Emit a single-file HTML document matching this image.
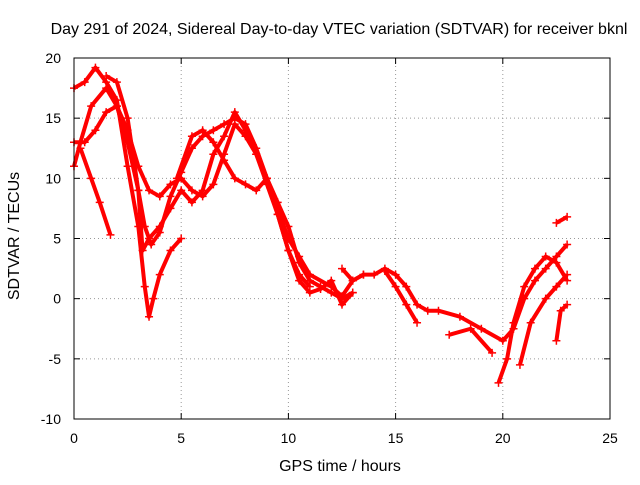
<!DOCTYPE html>
<html><head><meta charset="utf-8"><style>
body{margin:0;background:#fff}
svg{font-family:"Liberation Sans",sans-serif;font-size:14px}
</style></head><body>
<svg id="chart" width="640" height="480">
<text x="339" y="34" text-anchor="middle" font-size="16">Day 291 of 2024, Sidereal Day-to-day VTEC variation (SDTVAR) for receiver bknl</text>
<text transform="translate(19,236) rotate(-90)" text-anchor="middle" font-size="16">SDTVAR / TECUs</text>
<text x="340" y="471" text-anchor="middle" font-size="16">GPS time / hours</text>
<g id="grid"></g><g id="ticks"></g><g id="series"></g>
<rect x="74" y="58" width="536" height="361" fill="none" stroke="#000"/>
</svg>
<script>
const xTicks=[0,5,10,15,20,25];
const yTicks=[-10,-5,0,5,10,15,20];
const track1=[[0,11],[0.3,13],[0.8,16],[1.5,17.5],[2,16],[2.5,13],[3,9],[3.3,6],[3.6,4.5],[4,5.5],[4.5,8.5],[5,10.5],[5.5,12.5],[6,13.5],[6.5,14],[7,14.5],[7.5,15],[8,14.5],[8.5,12.5],[9,10],[9.5,8],[10,6],[10.5,3],[11,1.5],[11.5,1],[12,0.5],[12.5,0],[13,0.5]];
const track2=[[0.3,12.5],[0.8,10],[1.2,8],[1.7,5.3]];
const track3=[[0,17.5],[0.5,18],[1,19.2],[1.5,18],[2,16.5],[2.5,11],[3,6],[3.3,1],[3.5,-1.5],[3.7,0],[4,2],[4.5,4],[5,5]];
const track4=[[0,13],[0.5,13],[1,14],[1.5,15.5],[2,16],[2.5,14],[3,11],[3.5,9],[4,8.5],[4.5,9.5],[5,10],[5.5,9],[6,8.5],[6.5,9.5],[7,12],[7.5,14.5],[8,13.5],[8.5,12],[9,10],[9.5,7.5],[10,5],[10.5,3.5],[11,2],[12,1],[12.5,0.2],[13,1.5],[13.5,2]];
const track5=[[1.5,18.5],[2,18],[2.5,15],[3,9],[3.2,4],[3.5,5],[4,6],[4.5,7.5],[5,9],[5.5,8],[6,9],[6.5,12],[7,13.5],[7.5,15.5],[8,14],[8.5,12],[9,9.5],[9.5,7],[10,4],[10.5,2],[11,1]];
const track6=[[4.8,10],[5.5,13.5],[6,14],[6.5,13],[7,11.5],[7.5,10],[8,9.5],[8.5,9],[9,10],[9.5,7],[10,4],[10.5,1.5],[11,0.5],[11.5,0.8],[12,1.5],[12.5,-0.5],[13,0.5]];
const track7=[[12.5,2.5],[13,1.5],[13.5,2],[14,2],[14.5,2.5],[15,2],[15.5,1],[16,-0.5],[16.5,-1],[17,-1],[18,-1.5],[19,-2.5],[20,-3.5],[20.5,-2.5],[21,0],[21.5,1.5],[22,2.5],[22.5,3.5],[23,4.5]];
const track8=[[14.5,2.3],[15,1],[15.5,-0.5],[16,-2]];
const track9=[[17.5,-3],[18.5,-2.5],[19.5,-4.5]];
const track10=[[19.8,-7],[20.2,-5],[20.5,-2],[21,1],[21.5,2.5],[22,3.5],[22.5,3],[23,1.5]];
const track11=[[20.8,-5.5],[21.3,-2],[22,0],[22.5,1],[23,2]];
const track12=[[22.5,-3.5],[22.7,-1],[23,-0.5]];
const track13=[[22.5,6.3],[23,6.8]];
const tracks=[track1,track2,track3,track4,track5,track6,track7,track8,track9,track10,track11,track12,track13];
const NS="http://www.w3.org/2000/svg";
const X=v=>74+v*536/25, Y=v=>419-(v+10)*361/30;
const grid=document.getElementById('grid'),ticks=document.getElementById('ticks'),ser=document.getElementById('series');
function mk(t,a,p){const e=document.createElementNS(NS,t);for(const k in a)e.setAttribute(k,a[k]);p.appendChild(e);return e;}
xTicks.forEach(v=>{
 if(v>0&&v<25){const g=mk('line',{x1:X(v),x2:X(v),y1:58,y2:419,stroke:'#999','stroke-dasharray':'1,3'},grid);
 
 }
 mk('line',{x1:X(v),x2:X(v),y1:419,y2:413,stroke:'#000'},ticks);mk('line',{x1:X(v),x2:X(v),y1:58,y2:64,stroke:'#000'},ticks);
 const t=mk('text',{x:X(v),y:443,'text-anchor':'middle'},ticks);t.textContent=v;
 
 
});
yTicks.forEach(v=>{
 if(v>-10&&v<20){const g=mk('line',{x1:74,x2:610,y1:Y(v),y2:Y(v),stroke:'#999','stroke-dasharray':'1,3'},grid);
 
 }
 mk('line',{x1:74,x2:80,y1:Y(v),y2:Y(v),stroke:'#000'},ticks);mk('line',{x1:604,x2:610,y1:Y(v),y2:Y(v),stroke:'#000'},ticks);
 const t=mk('text',{x:61,y:Y(v)+5,'text-anchor':'end'},ticks);t.textContent=v;
 
 
});
tracks.forEach((tr,i)=>{
 const pl=mk('polyline',{points:tr.map(p=>X(p[0])+','+Y(p[1])).join(' '),fill:'none',stroke:'#f00','stroke-width':4,'stroke-linejoin':'round'},ser);
 
 
 tr.forEach(p=>{const x=X(p[0]),y=Y(p[1]);
  const m=mk('path',{d:`M${x-4},${y}H${x+4}M${x},${y-4}V${y+4}`,stroke:'#f00','stroke-width':1.5},ser);
  
  });
});
</script>
</body></html>
